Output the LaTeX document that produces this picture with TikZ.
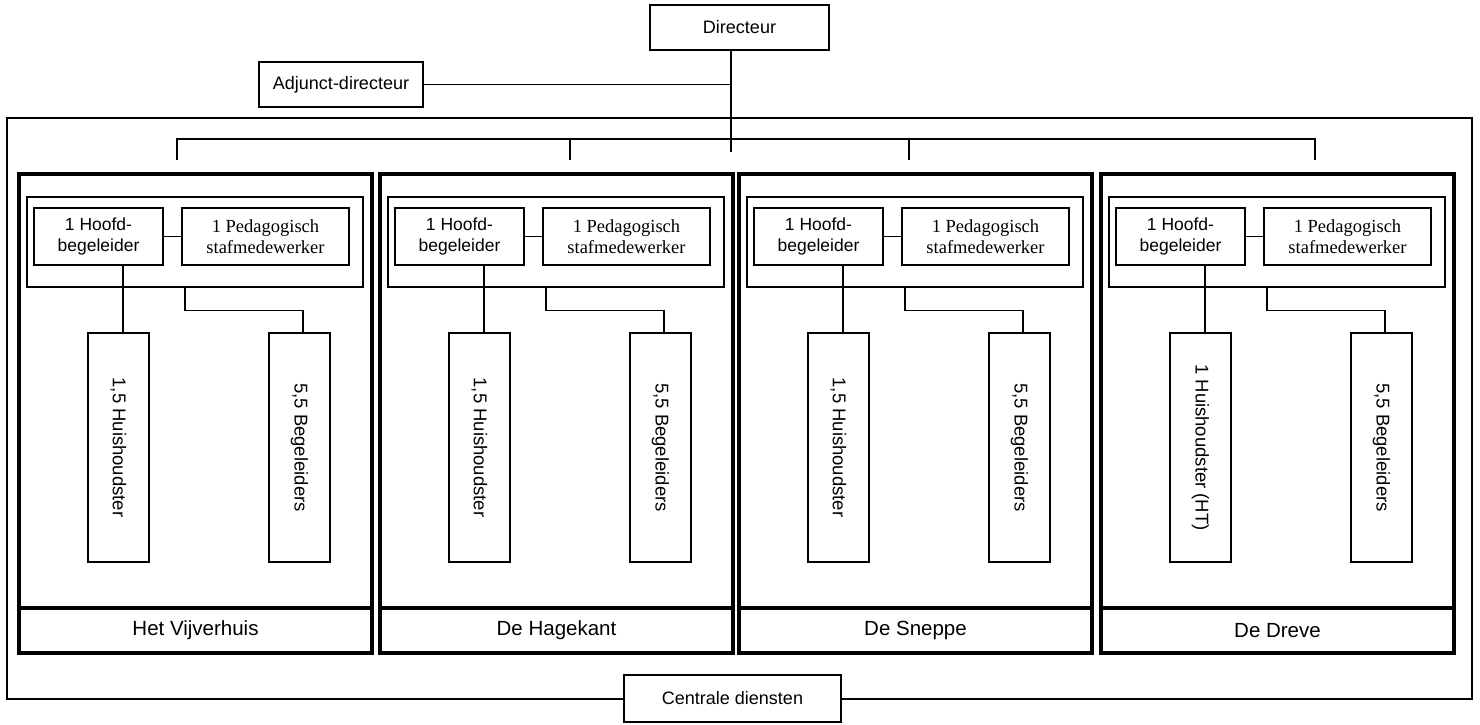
\documentclass[tikz,border=0pt]{standalone}
\usepackage{fontspec}
\setmainfont{Liberation Sans}
\newfontfamily\stafletter{Liberation Serif}

\begin{document}
\begin{tikzpicture}[x=1pt, y=-1pt, inner sep=0pt]
      \tikzstyle{leiding} = [
        rectangle,
        draw,
        line width = 1.3pt,
        fill = white,
        minimum height = 45pt,
        font = \fontsize{18}{21}\selectfont
      ]

      \tikzstyle{afdeling} = [
        rectangle,
        draw,
        line width = 3.6pt,
        minimum width = 353pt,
        minimum height = 479pt
      ]

      \tikzstyle{naam} = [
        rectangle,
        draw,
        line width = 3.6pt,
        minimum width = 353pt,
        minimum height = 45pt,
        font = \fontsize{20.5}{24}\selectfont
      ]

      \tikzstyle{team} = [
        rectangle,
        draw,
        line width = 1.3pt,
        minimum width = 336pt,
        minimum height = 90pt
      ]

      \tikzstyle{hoofd} = [
        rectangle,
        draw,
        line width = 1.3pt,
        align = center,
        minimum width = 129pt,
        minimum height = 57pt,
        font = \fontsize{17.5}{21}\selectfont
      ]

      \tikzstyle{staf} = [
        rectangle,
        draw,
        line width = 1.3pt,
        align = center,
        minimum width = 167pt,
        minimum height = 57pt,
        font = \stafletter\fontsize{18.5}{21}\selectfont
      ]

      \tikzstyle{functie} = [
        rectangle,
        draw,
        line width = 1.3pt,
        minimum width = 61pt,
        minimum height = 229pt,
        font = \fontsize{18.5}{22}\selectfont
      ]

      \tikzstyle{lijn} = [line width = 1.3pt]

      \useasboundingbox (0,0) rectangle (1480,724);

      \node[leiding, minimum width=179pt] (directeur) at (739.5,27.5) {Directeur};
      \node[leiding, minimum width=164pt] (adjunct) at (341,84.5) {Adjunct-directeur};
      \node[draw, line width=1.3pt, minimum width=1465pt, minimum height=581pt] (organisatie) at (739.5,408.5) {};

      \node[afdeling] (vijverhuis) at (195.5,413.5) {};
      \node[naam] (naam1) at (195.5,630.5) {Het Vijverhuis};
      \node[team] (team1) at (195,242) {};
      \node[hoofd] (hoofd1) at (98.5,236.5) {1 Hoofd-\\begeleider};
      \node[staf] (staf1) at (265.5,236.5) {1 Pedagogisch\\stafmedewerker};
      \node[functie] (huis1) at (118.5,447.5) {\rotatebox{-90}{1,5 Huishoudster}};
      \node[functie] (beg1) at (299.5,447.5) {\rotatebox{-90}{5,5 Begeleiders}};

      \node[afdeling] (hagekant) at (556.5,413.5) {};
      \node[naam] (naam2) at (556.5,630.5) {De Hagekant};
      \node[team] (team2) at (556,242) {};
      \node[hoofd] (hoofd2) at (459.5,236.5) {1 Hoofd-\\begeleider};
      \node[staf] (staf2) at (626.5,236.5) {1 Pedagogisch\\stafmedewerker};
      \node[functie] (huis2) at (479.5,447.5) {\rotatebox{-90}{1,5 Huishoudster}};
      \node[functie] (beg2) at (660.5,447.5) {\rotatebox{-90}{5,5 Begeleiders}};

      \node[afdeling] (sneppe) at (915.5,413.5) {};
      \node[naam] (naam3) at (915.5,630.5) {De Sneppe};
      \node[team] (team3) at (915,242) {};
      \node[hoofd] (hoofd3) at (818.5,236.5) {1 Hoofd-\\begeleider};
      \node[staf] (staf3) at (985.5,236.5) {1 Pedagogisch\\stafmedewerker};
      \node[functie] (huis3) at (838.5,447.5) {\rotatebox{-90}{1,5 Huishoudster}};
      \node[functie] (beg3) at (1019.5,447.5) {\rotatebox{-90}{5,5 Begeleiders}};

      \node[afdeling] (dreve) at (1277.5,413.5) {};
      \node[naam] (naam4) at (1277.5,630.5) {De Dreve};
      \node[team] (team4) at (1277,242) {};
      \node[hoofd] (hoofd4) at (1180.5,236.5) {1 Hoofd-\\begeleider};
      \node[staf] (staf4) at (1347.5,236.5) {1 Pedagogisch\\stafmedewerker};
      \node[functie] (huis4) at (1200.5,447.5) {\rotatebox{-90}{1 Huishoudster (HT)}};
      \node[functie] (beg4) at (1381.5,447.5) {\rotatebox{-90}{5,5 Begeleiders}};

      \node[leiding, minimum width=217pt, minimum height=47pt] (centraal) at (732.5,698.5) {Centrale diensten};

      \coordinate (voet) at (731,152);
      \coordinate (bus) at (731,139);
      \coordinate (tak1) at (177,160);
      \coordinate (tak2) at (570,160);
      \coordinate (tak3) at (909,160);
      \coordinate (tak4) at (1315,160);

      \draw[lijn] (voet) -- (voet |- directeur.south);
      \draw[lijn] (adjunct) -- (adjunct -| voet);
      \draw[lijn] (tak1) |- (bus) -| (tak4);
      \draw[lijn] (tak2) -- (tak2 |- bus);
      \draw[lijn] (tak3) -- (tak3 |- bus);

      \draw[lijn] (hoofd1) -- (staf1);
      \draw[lijn] ([xshift=24.5pt]hoofd1.south) -- ([xshift=24.5pt]hoofd1.south |- huis1.north);
      \draw[lijn] ([xshift=-10pt]team1.south) -- ++(0,23) -| ([xshift=3.5pt]beg1.north);
      \draw[lijn] (hoofd2) -- (staf2);
      \draw[lijn] ([xshift=24.5pt]hoofd2.south) -- ([xshift=24.5pt]hoofd2.south |- huis2.north);
      \draw[lijn] ([xshift=-10pt]team2.south) -- ++(0,23) -| ([xshift=3.5pt]beg2.north);
      \draw[lijn] (hoofd3) -- (staf3);
      \draw[lijn] ([xshift=24.5pt]hoofd3.south) -- ([xshift=24.5pt]hoofd3.south |- huis3.north);
      \draw[lijn] ([xshift=-10pt]team3.south) -- ++(0,23) -| ([xshift=3.5pt]beg3.north);
      \draw[lijn] (hoofd4) -- (staf4);
      \draw[lijn] ([xshift=24.5pt]hoofd4.south) -- ([xshift=24.5pt]hoofd4.south |- huis4.north);
      \draw[lijn] ([xshift=-10pt]team4.south) -- ++(0,23) -| ([xshift=3.5pt]beg4.north);
    \end{tikzpicture}
\end{document}
